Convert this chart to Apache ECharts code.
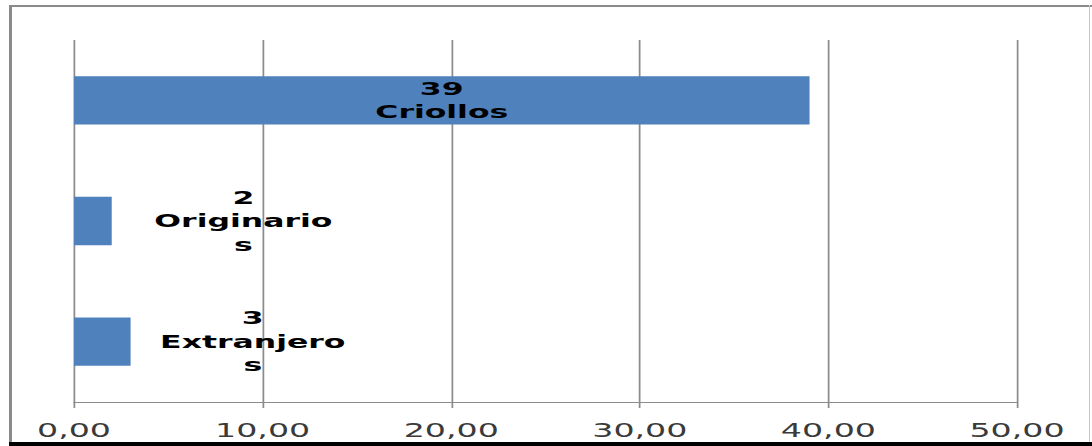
<!DOCTYPE html>
<html>
<head>
<meta charset="utf-8">
<script src="https://cdn.jsdelivr.net/npm/echarts@6/dist/echarts.min.js"></script>
<style>
  html, body { margin: 0; padding: 0; background: #ffffff; }
  #wrap { position: relative; width: 1092px; height: 446px; overflow: hidden; background: #fff; }
  #chart { position: absolute; left: 0; top: 0; height: 446px; transform-origin: 0 0; }
  .frame { position: absolute; }
</style>
</head>
<body>
<div id="wrap">
  <div id="chart"></div>
  <div class="frame" style="left:9px;top:5px;width:3px;height:441px;background:#8a8a8a;"></div>
  <div class="frame" style="left:9px;top:5px;width:1083px;height:2px;background:#8a8a8a;"></div>
  <div class="frame" style="left:1089px;top:5px;width:1px;height:441px;background:#c8c8c8;"></div>
  <div class="frame" style="left:9px;top:442px;width:1083px;height:4px;background:#000;"></div>
</div>
<script>
// Population by origin
const categories = ['Criollos', 'Originarios', 'Extranjeros'];
const values = [39, 2, 3];
const xTicks = [0, 10, 20, 30, 40, 50];

// The chart is laid out at a narrower width and stretched horizontally.
const STRETCH = 1.75;
const FULL_W = 1092;
const innerW = FULL_W / STRETCH;
const el = document.getElementById('chart');
el.style.width = innerW + 'px';
el.style.transform = 'scaleX(' + STRETCH + ')';

const chart = echarts.init(el, null, { renderer: 'svg', width: innerW, height: 446 });

const fmt = v => v.toFixed(2).replace('.', ',');

chart.setOption({
  animation: false,
  grid: {
    left: 74 / STRETCH,
    right: (FULL_W - 1017) / STRETCH,
    top: 40,
    bottom: 44,
    containLabel: false
  },
  xAxis: {
    type: 'value',
    min: xTicks[0],
    max: xTicks[xTicks.length - 1],
    interval: xTicks[1] - xTicks[0],
    axisLine: { show: true, lineStyle: { color: '#8c8c8c', width: 1 } },
    axisTick: { show: true, length: 6, lineStyle: { color: '#8c8c8c', width: 1 } },
    splitLine: { show: true, lineStyle: { color: '#8c8c8c', width: 1 } },
    axisLabel: {
      formatter: fmt,
      fontFamily: 'DejaVu Sans',
      fontSize: 19,
      color: '#3a3a3a',
      margin: 19
    }
  },
  yAxis: {
    type: 'category',
    data: categories,
    inverse: true,
    axisLine: { show: false },
    axisTick: { show: false },
    axisLabel: { show: false },
    splitLine: { show: false }
  },
  series: [{
    type: 'bar',
    barCategoryGap: '60%',
    itemStyle: { color: '#4f81bd' },
    label: {
      show: true,
      position: 'inside',
      formatter: '{c}\n{b}',
      fontFamily: 'DejaVu Sans',
      fontWeight: 'bold',
      fontSize: 18,
      lineHeight: 23.5,
      color: '#000',
      align: 'center',
      width: 110,
      overflow: 'breakAll'
    },
    data: values.map(v => ({
      value: v,
      label: v < 10 ? { offset: [86, 0] } : {}
    }))
  }]
});
</script>
</body>
</html>
